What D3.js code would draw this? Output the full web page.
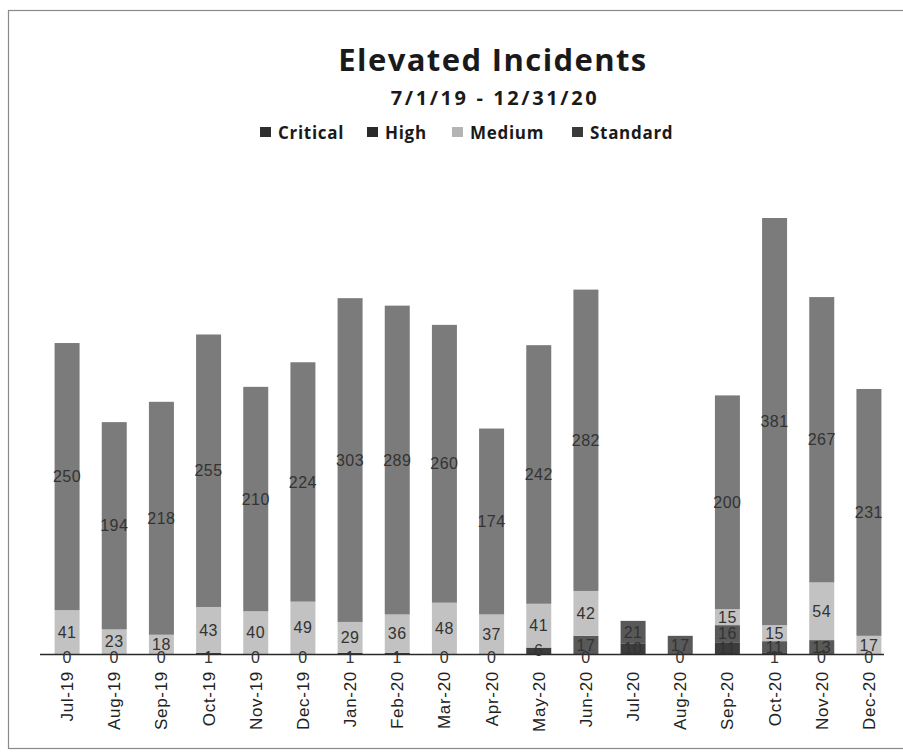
<!DOCTYPE html>
<html>
<head>
<meta charset="utf-8">
<script src="https://cdn.jsdelivr.net/npm/d3@7"></script>
<style>
  html, body { margin: 0; padding: 0; background: #fff; }
  svg { display: block; }
</style>
</head>
<body>
<svg id="chart" width="903" height="754"></svg>
<script>
// Monthly elevated incidents, July 2019 – December 2020
const months = ["Jul-19","Aug-19","Sep-19","Oct-19","Nov-19","Dec-19","Jan-20","Feb-20","Mar-20",
                "Apr-20","May-20","Jun-20","Jul-20","Aug-20","Sep-20","Oct-20","Nov-20","Dec-20"];
const critical = [0, 0, 0, 1, 0, 0, 1, 1, 0, 0, 6, 0, 10, 0, 11, 1, 0, 0];
const high     = [0, 0, 0, 0, 0, 0, 0, 0, 0, 0, 0, 17, 21, 17, 16, 11, 13, 0];
const medium   = [41, 23, 18, 43, 40, 49, 29, 36, 48, 37, 41, 42, 0, 0, 15, 15, 54, 17];
const standard = [250, 194, 218, 255, 210, 224, 303, 289, 260, 174, 242, 282, 0, 0, 200, 381, 267, 231];
const seriesNames = ["Critical", "High", "Medium", "Standard"];

const colors = {
  Critical: "#3c3c3c",
  High: "#595959",
  Medium: "#c2c2c2",
  Standard: "#7b7b7b"
};
const legendColors = {
  Critical: "#2e2e2e",
  High: "#2a2a2a",
  Medium: "#b4b4b4",
  Standard: "#3a3a3a"
};

const rows = months.map((m, i) => ({
  month: m, Critical: critical[i], High: high[i], Medium: medium[i], Standard: standard[i]
}));

const svg = d3.select("#chart");
const baseY = 654;

// outer chart frame (runs off the right edge)
svg.append("rect")
  .attr("x", 8.5).attr("y", 10.5).attr("width", 904).attr("height", 738)
  .attr("fill", "none").attr("stroke", "#8a8a8a").attr("stroke-width", 1.2);

const x = d3.scaleBand().domain(months).range([43.5, 892.5]).paddingInner(0.47).paddingOuter(0.235);
const y = d3.scaleLinear().domain([0, 450]).range([baseY, baseY - 450 * 1.0686]);

const layers = d3.stack().keys(seriesNames)(rows);

const g = svg.append("g");
layers.forEach(layer => {
  g.append("g").selectAll("rect")
    .data(layer)
    .join("rect")
    .attr("x", d => x(d.data.month))
    .attr("width", x.bandwidth())
    .attr("y", d => y(d[1]))
    .attr("height", d => Math.max(0, y(d[0]) - y(d[1])))
    .attr("fill", colors[layer.key]);
});

// axis baseline
svg.append("line")
  .attr("x1", 40).attr("x2", 884).attr("y1", baseY + 0.5).attr("y2", baseY + 0.5)
  .attr("stroke", "#2a2a2a").attr("stroke-width", 1.4);

// data labels centred on each segment; Critical counts on hairline segments sit on the baseline
const labelG = svg.append("g")
  .attr("font-family", "'Liberation Sans', Arial, sans-serif")
  .attr("font-size", 16)
  .attr("letter-spacing", 0.5)
  .attr("fill", "#333")
  .attr("text-anchor", "middle");

layers.forEach(layer => {
  const key = layer.key;
  labelG.append("g").selectAll("text")
    .data(layer.filter(d => (d[1] - d[0]) > 0 || key === "Critical"))
    .join("text")
    .attr("x", d => x(d.data.month) + x.bandwidth() / 2)
    .attr("y", d => {
      const h = y(d[0]) - y(d[1]);
      return h < 4 ? baseY + 3 : (y(d[0]) + y(d[1])) / 2;
    })
    .attr("dy", "0.35em")
    .text(d => d.data[key]);
});

// category axis, rotated labels
const axis = d3.axisBottom(x).tickSize(0).tickPadding(0);
const ax = svg.append("g").attr("transform", `translate(0,${baseY})`).call(axis);
ax.select(".domain").remove();
ax.selectAll("text")
  .attr("font-family", "'Liberation Sans', Arial, sans-serif")
  .attr("font-size", 17)
  .attr("letter-spacing", 0.7)
  .attr("fill", "#222")
  .attr("text-anchor", "end")
  .attr("transform", "rotate(-90)")
  .attr("x", -17)
  .attr("y", 0)
  .attr("dy", "0.35em");

// titles
svg.append("text")
  .attr("x", 493).attr("y", 71)
  .attr("text-anchor", "middle")
  .attr("font-family", "'Open Sans', Lato, sans-serif")
  .attr("font-weight", "bold")
  .attr("font-size", 31)
  .attr("letter-spacing", 1.4)
  .attr("fill", "#1a1a1a")
  .text("Elevated Incidents");

svg.append("text")
  .attr("x", 495).attr("y", 105)
  .attr("text-anchor", "middle")
  .attr("font-family", "'Open Sans', Lato, sans-serif")
  .attr("font-weight", "bold")
  .attr("font-size", 20)
  .attr("letter-spacing", 2.6)
  .attr("fill", "#1a1a1a")
  .text("7/1/19 - 12/31/20");

// legend
const legendX = [260, 367, 452, 572];
const leg = svg.append("g")
  .attr("font-family", "'Open Sans', Lato, sans-serif")
  .attr("font-weight", "bold")
  .attr("font-size", 17)
  .attr("letter-spacing", 0.7)
  .attr("fill", "#1a1a1a");
seriesNames.forEach((s, i) => {
  leg.append("rect")
    .attr("x", legendX[i]).attr("y", 127)
    .attr("width", 11).attr("height", 10)
    .attr("fill", legendColors[s]);
  leg.append("text")
    .attr("x", legendX[i] + 18).attr("y", 139)
    .text(s);
});
</script>
</body>
</html>
